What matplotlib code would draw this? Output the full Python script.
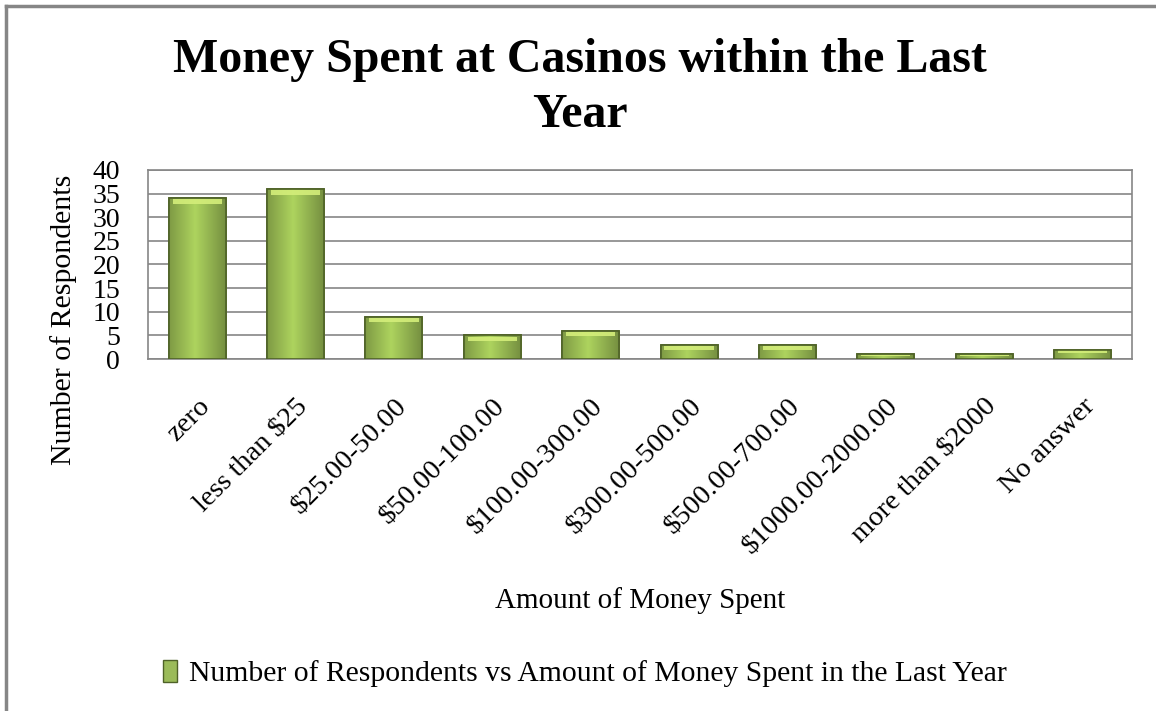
import numpy as np
import matplotlib.pyplot as plt
from matplotlib.patches import Rectangle
from matplotlib.lines import Line2D

plt.rcParams['font.family'] = ['Liberation Serif', 'DejaVu Serif']

categories = ['zero', 'less than $25', '$25.00-50.00', '$50.00-100.00', '$100.00-300.00',
              '$300.00-500.00', '$500.00-700.00', '$1000.00-2000.00', 'more than $2000',
              'No answer']
respondents = [34, 36, 9, 5, 6, 3, 3, 1, 1, 2]

fig = plt.figure(figsize=(11.56, 7.11), dpi=100)
ax = fig.add_axes([0.128, 0.495, 0.851, 0.266])

x = np.arange(len(categories))
barWidth = 0.58

# base bars
bars = ax.bar(x, respondents, width=barWidth, color='#9bbb59', edgecolor='#4f6228',
              linewidth=1.2, zorder=3)

# horizontal shading: darker sides, lighter middle
grad = np.linspace(0, 1, 64)
shade = 1 - 0.3 * np.abs(grad - 0.45) * 2
light = np.array([0.68, 0.83, 0.37])
img = shade[None, :, None] * light[None, None, :]
for b, v in zip(bars, respondents):
    x0 = b.get_x()
    im = ax.imshow(img, extent=[x0, x0 + barWidth, 0, v], aspect='auto', zorder=3.5,
                   interpolation='bilinear')
    im.set_clip_path(b)
    # bevelled top highlight
    cap = min(1.2, v * 0.35)
    ax.add_patch(Rectangle((x0 + 0.04, v - cap), barWidth - 0.08, cap * 0.8,
                           facecolor='#d4ee7a', edgecolor='none', zorder=3.6, alpha=0.9))
    ax.add_patch(Rectangle((x0, 0), barWidth, v, facecolor='none', edgecolor='#4f6228',
                           linewidth=1.2, zorder=3.7))

ax.set_xlim(-0.5, len(categories) - 0.5)
ax.set_ylim(0, 40)
ax.set_yticks(range(0, 41, 5))
ax.tick_params(axis='y', labelsize=20, length=0, pad=20)
ax.set_xticks(x)
ax.set_xticklabels(categories, rotation=45, ha='right', rotation_mode='anchor', fontsize=20.5)
ax.tick_params(axis='x', length=0, pad=25)
ax.yaxis.grid(True, color='#868686', linewidth=1.2, zorder=0)
for s in ax.spines.values():
    s.set_color('#868686')
    s.set_linewidth(1.2)

ax.set_ylabel('Number of Respondents', fontsize=21.5)
ax.yaxis.set_label_coords(-0.072, 0.21)
ax.set_xlabel('Amount of Money Spent', fontsize=21)
ax.xaxis.set_label_coords(0.5, -1.207)

fig.text(0.502, 0.877, 'Money Spent at Casinos within the Last\nYear', ha='center', va='center',
         fontsize=34.5, fontweight='bold', linespacing=1.35)

handle = Rectangle((0, 0), 1, 1, facecolor='#9bbb59', edgecolor='#4f6228')
fig.legend([handle], ['Number of Respondents vs Amount of Money Spent in the Last Year'],
           loc='center', bbox_to_anchor=(0.506, 0.053), frameon=False, fontsize=21.3,
           handlelength=0.45, handleheight=0.8, handletextpad=0.4)

# outer frame: left and top edges only
fig.add_artist(Line2D([0.0052, 0.0052], [0, 0.992], color='#868686', linewidth=2.5,
                      transform=fig.transFigure))
fig.add_artist(Line2D([0.0052, 1], [0.992, 0.992], color='#868686', linewidth=2.5,
                      transform=fig.transFigure))

fig.savefig('out.png', dpi=100)
